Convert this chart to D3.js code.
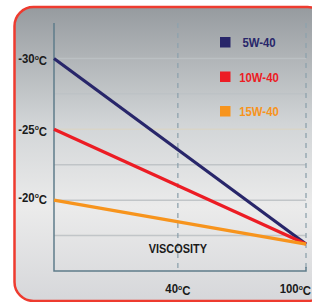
<!DOCTYPE html>
<html>
<head>
<meta charset="utf-8">
<script src="https://cdn.jsdelivr.net/npm/d3@7"></script>
<style>
  body { margin: 0; background: #fff; }
  svg text { font-family: "Liberation Sans", Arial, sans-serif; font-weight: bold; }
</style>
</head>
<body>
<div id="chart"></div>
<script>
// oil grades and their cold-start temperature (left) converging at 100°C
const grades = ["5W-40", "10W-40", "15W-40"];
const coldTemps = [-30, -25, -20];
const hotValue = -16.9;
const colors = ["#28266a", "#ec1c24", "#f7941d"];
const yTicks = [-30, -25, -20];
const xTicks = [40, 100];
const gridValues = [-30, -27.5, -25, -22.5, -20, -17.5];

const width = 312, height = 302;
const squeeze = 0.91; // narrow bold look

const svg = d3.select("#chart").append("svg")
    .attr("width", width)
    .attr("height", height);

const defs = svg.append("defs");
const grad = defs.append("linearGradient")
    .attr("id", "bg").attr("x1", 0).attr("y1", 0).attr("x2", 0).attr("y2", 1);
grad.append("stop").attr("offset", "0%").attr("stop-color", "#969b9f");
grad.append("stop").attr("offset", "40%").attr("stop-color", "#d2d5d7");
grad.append("stop").attr("offset", "68%").attr("stop-color", "#ebebeb");
grad.append("stop").attr("offset", "100%").attr("stop-color", "#d6d7da");

svg.append("rect")
    .attr("x", 14.5).attr("y", 7)
    .attr("width", 312).attr("height", 294)
    .attr("rx", 19)
    .attr("fill", "url(#bg)")
    .attr("stroke", "#ee3b2f")
    .attr("stroke-width", 2.5);

const x = d3.scaleLinear().domain([-18, 100]).range([54, 306]);
const y = d3.scaleLinear().domain([-32.5, -15]).range([23, 271]);

// horizontal grid
svg.append("g")
    .selectAll("line")
    .data(gridValues)
    .enter().append("line")
    .attr("x1", x(-18)).attr("x2", x(100))
    .attr("y1", d => y(d)).attr("y2", d => y(d))
    .attr("stroke", d => d === -25 ? "#d9d5c6" : "#bdc1c4")
    .attr("stroke-opacity", 0.9)
    .attr("stroke-width", 1.5);

// dashed verticals
svg.append("g")
    .selectAll("line")
    .data(xTicks)
    .enter().append("line")
    .attr("x1", d => x(d)).attr("x2", d => x(d))
    .attr("y1", y(-32.5)).attr("y2", y(-15))
    .attr("stroke", "#8ea2ad")
    .attr("stroke-width", 1.3)
    .attr("stroke-dasharray", "5,5");

// axes
svg.append("path")
    .attr("d", `M${x(-18)},${y(-32.5)}V${y(-15)}H${x(100)}V${y(-15) - 4}`)
    .attr("fill", "none")
    .attr("stroke", "#5f7c8b")
    .attr("stroke-width", 1.5);

// series lines
const line = d3.line().x(d => x(d[0])).y(d => y(d[1]));
svg.append("g")
    .selectAll("path")
    .data(grades)
    .enter().append("path")
    .attr("d", (d, i) => line([[-18, coldTemps[i]], [100, hotValue]]))
    .attr("fill", "none")
    .attr("stroke", (d, i) => colors[i])
    .attr("stroke-width", 3.2);

function degLabel(sel, v) {
    sel.text(v);
    sel.append("tspan").attr("font-size", "60%").attr("dy", "-0.45em").text("o");
    sel.append("tspan").attr("dy", "0.45em").text("C");
}

function place(px, py) {
    return `translate(${px},${py}) scale(${squeeze},1)`;
}

// y labels
svg.append("g")
    .selectAll("text")
    .data(yTicks)
    .enter().append("text")
    .attr("transform", d => place(47, y(d) + 4.5 - (d === -20 ? 3 : 0)))
    .attr("text-anchor", "end")
    .attr("font-size", 12.5)
    .attr("fill", "#1a1a1a")
    .each(function(d) { degLabel(d3.select(this), d); });

// x labels
svg.append("g")
    .selectAll("text")
    .data(xTicks)
    .enter().append("text")
    .attr("transform", d => d === 100 ? place(311, 293) : place(x(d), 293))
    .attr("text-anchor", d => d === 100 ? "end" : "middle")
    .attr("font-size", 12.5)
    .attr("fill", "#1a1a1a")
    .each(function(d) { degLabel(d3.select(this), d); });

svg.append("text")
    .attr("transform", place(x(40), 253))
    .attr("text-anchor", "middle")
    .attr("font-size", 12)
    .attr("fill", "#1a1a1a")
    .text("VISCOSITY");

// legend
const legend = svg.append("g")
    .selectAll("g")
    .data(grades)
    .enter().append("g")
    .attr("transform", (d, i) => `translate(220,${37 + i * 34.5})`);
legend.append("rect")
    .attr("width", 10.5).attr("height", 10.5)
    .attr("fill", (d, i) => colors[i]);
legend.append("text")
    .attr("transform", place(39, 10))
    .attr("text-anchor", "middle")
    .attr("font-size", 12.5)
    .attr("fill", (d, i) => colors[i])
    .text(d => d);
</script>
</body>
</html>
